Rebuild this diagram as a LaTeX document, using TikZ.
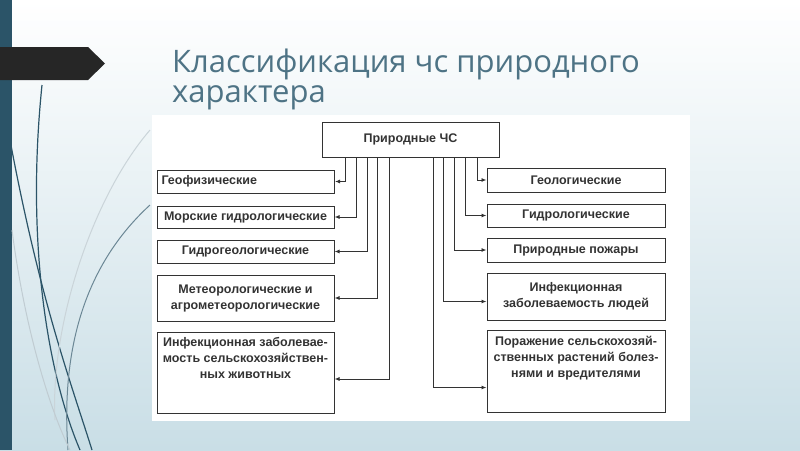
\documentclass[tikz,border=0pt]{standalone}
\usepackage{fontspec}
\setmainfont{Liberation Sans}
\newfontfamily\titlefont{Open Sans}
\usetikzlibrary{arrows.meta}
\definecolor{bar}{HTML}{2B5468}
\definecolor{ttl}{HTML}{4E7385}
\definecolor{bgb}{HTML}{C9DEE6}
\tikzset{x=1pt,y=-1pt,
 bx/.style={draw=black!80,line width=1pt,fill=white,align=center,font=\bfseries\fontsize{12.5}{16}\selectfont,text=black!80,inner sep=1pt},
 cn/.style={draw=black!80,line width=0.9pt,-{Latex[length=5pt,width=4pt]}}}
\begin{document}
\begin{tikzpicture}
\useasboundingbox (0,0) rectangle (800,450);
\shade[top color=white,bottom color=bgb] (0,0) rectangle (800,450);
\fill[bar] (0,0) rectangle (12,450);
\draw[bar,line width=1.2pt] (10,140) .. controls (40,300) and (70,380) .. (92,450);
\draw[bar,line width=1.2pt] (42,85) .. controls (25,250) and (50,380) .. (80,450);
\draw[bar!70,line width=1pt] (150,205) .. controls (90,260) and (60,340) .. (68,450);
\draw[bar!25,line width=1pt] (150,130) .. controls (90,200) and (50,330) .. (55,420);
\draw[bar!30,line width=1pt] (12,230) .. controls (25,330) and (50,410) .. (70,450);
\fill[black!85] (0,47) -- (88,47) -- (105,63.5) -- (88,80) -- (0,80) -- cycle;
\node[anchor=west,text=ttl,font=\titlefont\fontsize{31}{36}\selectfont,inner sep=0pt] (t1) at (172,64) {Классификация чс природного};
\node[anchor=west,text=ttl,font=\titlefont\fontsize{31}{36}\selectfont,inner sep=0pt] (t2) at (172,98) {характера};
\fill[white] (152,115) rectangle (690,421);
\node[bx,minimum width=177pt,minimum height=35pt] (top) at (410.5,139.5) {Природные ЧС};
\node[bx,minimum width=177pt,minimum height=23pt,anchor=west,text width=169pt,align=left,inner xsep=4pt] (l1) at (157,181.5) {Геофизические};
\node[bx,minimum width=177pt,minimum height=22pt] (l2) at (245.5,217) {Морские гидрологические};
\node[bx,minimum width=177pt,minimum height=23pt] (l3) at (245.5,251.5) {Гидрогеологические};
\node[bx,minimum width=177pt,minimum height=46pt] (l4) at (245.5,298) {Метеорологические и\\агрометеорологические};
\node[bx,minimum width=177pt,minimum height=81pt,anchor=north,text depth=30pt,inner ysep=4pt] (l5) at (245.5,332) {Инфекционная заболевае-\\мость сельскохозяйствен-\\ных животных};
\node[bx,minimum width=178pt,minimum height=24pt] (r1) at (576,180) {Геологические};
\node[bx,minimum width=178pt,minimum height=23pt] (r2) at (576,215.5) {Гидрологические};
\node[bx,minimum width=178pt,minimum height=24pt] (r3) at (576,250) {Природные пожары};
\node[bx,minimum width=178pt,minimum height=47pt] (r4) at (576,296.5) {Инфекционная\\заболеваемость людей};
\node[bx,minimum width=178pt,minimum height=82pt,anchor=north,text depth=30pt,inner ysep=4pt] (r5) at (576,330) {Поражение сельскохозяй-\\ственных растений болез-\\нями и вредителями};
\coordinate (a1) at (345,157); \coordinate (a2) at (356,157); \coordinate (a3) at (367,157);
\coordinate (a4) at (377,157); \coordinate (a5) at (389,157);
\coordinate (b1) at (477,157); \coordinate (b2) at (465,157); \coordinate (b3) at (454,157);
\coordinate (b4) at (443,157); \coordinate (b5) at (433,157);
\draw[cn] (a1) |- (l1.east);
\draw[cn] (a2) |- (l2.east);
\draw[cn] (a3) |- (l3.east);
\draw[cn] (a4) |- (l4.east);
\draw[cn] (a5) |- ([yshift=-6pt]l5.east);
\draw[cn] (b1) |- (r1.west);
\draw[cn] (b2) |- (r2.west);
\draw[cn] (b3) |- (r3.west);
\draw[cn] (b4) |- ([yshift=-5pt]r4.west);
\draw[cn] (b5) |- ([yshift=-16pt]r5.west);
\end{tikzpicture}
\end{document}
